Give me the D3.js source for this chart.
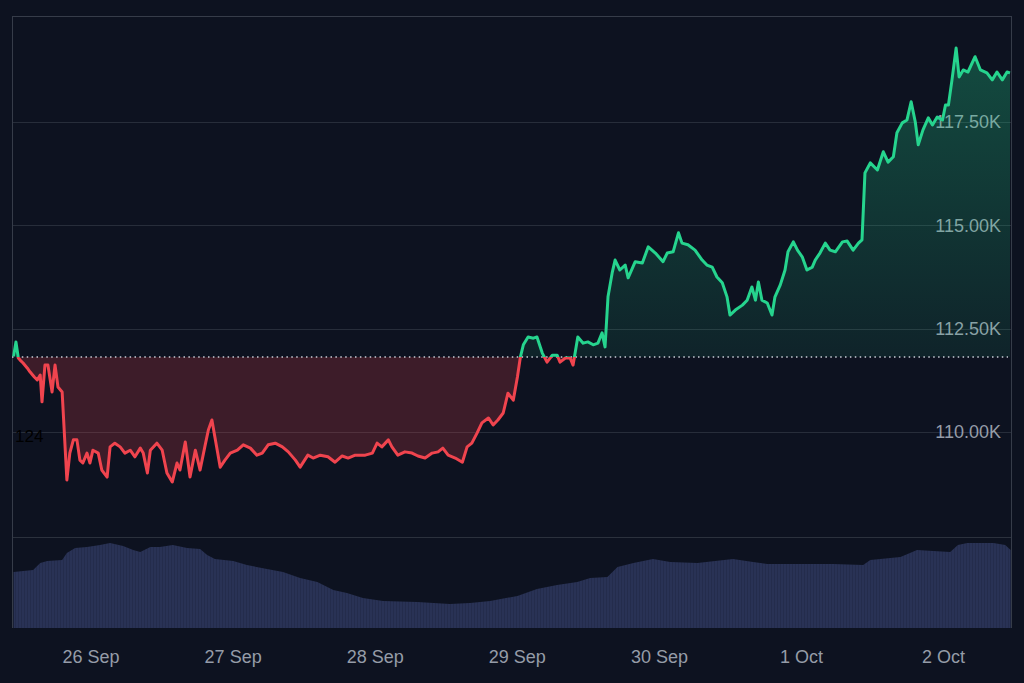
<!DOCTYPE html>
<html>
<head>
<meta charset="utf-8">
<script src="https://cdn.jsdelivr.net/npm/d3@7"></script>
<style>
  html, body { margin: 0; padding: 0; background: #0d1220; }
  svg { display: block; }
</style>
</head>
<body>
<div id="chart"></div>
<script>
// price series, hours after 25 Sep 11:00 UTC
const startTime = Date.UTC(2025, 8, 25, 11, 0)
const priceHours = [0,0.4,0.8,1.1,1.6,2.3,2.8,3.5,4.0,4.5,4.8,5.3,5.8,6.5,7.0,7.5,8.2,9.0,9.5,10.1,10.7,11.2,11.7,12.4,12.9,13.4,14.3,14.9,15.8,16.3,17.1,18.0,18.8,19.7,20.5,21.4,21.9,22.6,23.1,24.2,25.1,25.9,26.8,27.6,28.1,29.0,29.8,30.7,31.5,32.3,32.9,33.5,34.0,34.9,35.7,36.6,37.8,38.8,40.0,41.1,42.0,43.0,44.2,45.4,46.4,47.6,48.4,49.7,50.6,51.8,53.1,54.3,55.5,56.5,57.7,59.4,60.6,61.4,62.2,63.3,63.9,64.9,66.1,67.3,68.3,69.5,70.7,71.7,72.5,73.4,74.6,75.8,76.6,77.4,78.3,79.1,80.2,81.0,81.8,82.7,83.5,84.4,85.1,85.6,86.1,86.9,87.8,88.4,89.3,90.1,91.0,91.8,92.3,93.2,94.0,94.5,95.3,96.2,97.0,97.9,98.7,99.4,99.9,100.4,101.1,101.6,102.4,103.3,103.8,105.0,106.2,107.2,108.4,109.7,110.4,111.4,112.3,112.9,113.9,115.1,116.3,117.1,118.0,118.8,119.7,120.5,121.0,121.9,123.1,123.9,124.7,125.3,125.8,126.4,127.3,128.1,128.6,129.5,130.3,130.8,131.7,132.4,133.2,134.0,134.9,135.4,136.2,137.1,137.9,138.8,140.0,140.8,141.8,142.7,143.3,143.8,144.7,145.9,146.9,147.7,148.6,149.2,150.1,150.9,151.6,152.3,152.8,153.6,154.5,155.2,156.0,156.9,157.4,157.9,158.5,159.2,159.7,160.4,161.2,162.4,163.3,164.4,165.3,166.1,167.0,167.8,168.3]
const prices = [111830,112180,111790,111740,111670,111550,111450,111330,111260,111380,110730,111620,111620,110970,111620,111090,110970,108840,109490,109810,109810,109320,109250,109490,109250,109560,109490,109080,108910,109640,109730,109640,109490,109560,109400,109610,109490,109010,109560,109730,109560,109010,108790,109250,109080,109760,108910,109560,109080,109640,110050,110290,109880,109150,109320,109490,109560,109690,109610,109440,109490,109690,109730,109640,109520,109320,109150,109440,109370,109440,109400,109270,109420,109370,109440,109440,109490,109730,109640,109810,109640,109440,109520,109490,109420,109370,109490,109520,109610,109440,109370,109270,109640,109730,109980,110220,110340,110170,110290,110460,110940,110770,111330,111815,112110,112300,112270,112300,111910,111690,111860,111860,111690,111790,111790,111620,112300,112150,112180,112110,112150,112400,112060,113270,113850,114160,113920,114040,113730,114120,114090,114480,114330,114120,114330,114360,114820,114570,114530,114400,114160,114040,113990,113750,113610,113270,112830,112950,113070,113190,113510,113190,113630,113190,113120,112830,113270,113560,113920,114360,114600,114400,114240,113920,113990,114160,114330,114570,114400,114360,114600,114620,114400,114570,114650,116270,116510,116340,116780,116530,116660,117240,117480,117550,117990,117500,116950,117310,117600,117430,117620,117550,117910,117910,118520,119290,118590,118760,118710,119080,118760,118690,118520,118710,118520,118710,118690]
const baseline = 111815

// volume (24h, billions)
const volHours = [0,3.3,4.5,5.7,8.2,9.0,10.4,12.4,14.6,16.3,18.5,20.2,21.4,23.1,24.7,26.9,29.3,31.5,32.7,34.0,37.1,39.4,42.8,45.5,48.4,51.3,54.0,56.3,59.0,62.4,68.2,73.7,77.1,80.5,85.1,88.4,91.8,95.2,97.4,100.3,102.0,104.7,108.0,110.9,115.5,121.5,124.9,127.3,132.8,138.4,143.5,144.7,149.8,152.6,155.3,158.2,159.5,161.1,165.5,167.5,168.4]
const volumes = [61.5,63.7,71.4,73.6,74.7,82.4,87.9,89.0,91.2,93.4,90.1,85.7,83.5,89.0,89.0,91.2,87.9,86.8,80.2,75.8,73.6,69.2,64.8,61.5,55.0,50.6,41.8,38.5,33.0,29.7,28.6,26.4,27.5,29.7,35.2,42.9,47.3,50.6,55.0,56.0,67.0,71.4,75.8,72.5,71.4,75.8,72.5,70.3,70.3,70.3,69.2,74.7,78.0,85.7,84.6,83.5,91.2,93.4,93.4,91.2,85.7]

const priceTicks = [110000, 112500, 115000, 117500]

const hour = 3600 * 1000
const priceData = d3.range(Math.min(priceHours.length, prices.length)).map((i) => ({
	t: new Date(startTime + priceHours[i] * hour),
	p: prices[i],
}))
const volData = volHours.map((h, i) => ({ t: new Date(startTime + h * hour), v: volumes[i] }))

const width = 1024
const height = 683
const plotLeft = 12
const plotRight = 1011
const plotTop = 16
const split = 537
const plotBottom = 628

const svg = d3
	.select('#chart')
	.append('svg')
	.attr('width', width)
	.attr('height', height)
	.style('font-family', '"Liberation Sans", Arial, sans-serif')

svg.append('rect').attr('width', width).attr('height', height).attr('fill', '#0d1220')

const x = d3
	.scaleUtc()
	.domain([new Date(Date.UTC(2025, 8, 25, 10, 44)), new Date(Date.UTC(2025, 9, 2, 11, 28))])
	.range([plotLeft, plotRight])

const y = d3.scaleLinear().domain([107460, 120065]).range([split, plotTop])
const yv = d3.scaleLinear().domain([0, 100]).range([plotBottom, split])

const defs = svg.append('defs')

// thin vertical stripes so the volume reads like dense bars
const stripes = defs
	.append('pattern')
	.attr('id', 'volStripes')
	.attr('patternUnits', 'userSpaceOnUse')
	.attr('width', 3)
	.attr('height', 10)
stripes.append('rect').attr('width', 3).attr('height', 10).attr('fill', '#293255')
stripes.append('rect').attr('width', 1).attr('height', 10).attr('fill', '#242c4c')

// volume
svg
	.append('path')
	.datum(volData)
	.attr('fill', 'url(#volStripes)')
	.attr('d', d3.area().x((d) => x(d.t)).y0(yv(0)).y1((d) => yv(d.v)))

// grid
svg
	.append('g')
	.selectAll('line')
	.data(priceTicks)
	.join('line')
	.attr('x1', plotLeft)
	.attr('x2', plotRight)
	.attr('y1', (d) => Math.round(y(d)) + 0.5)
	.attr('y2', (d) => Math.round(y(d)) + 0.5)
	.attr('stroke', '#272d3a')

const frame = svg.append('g').attr('stroke', '#363c49').attr('fill', 'none')
frame.append('line').attr('x1', plotLeft).attr('x2', plotRight).attr('y1', plotTop + 0.5).attr('y2', plotTop + 0.5)
frame.append('line').attr('x1', plotLeft).attr('x2', plotRight).attr('y1', split + 0.5).attr('y2', split + 0.5).attr('stroke', '#2b313d')
frame.append('line').attr('x1', plotLeft + 0.5).attr('x2', plotLeft + 0.5).attr('y1', plotTop).attr('y2', plotBottom)
frame.append('line').attr('x1', plotRight + 0.5).attr('x2', plotRight + 0.5).attr('y1', plotTop).attr('y2', plotBottom)

// price labels
svg
	.append('g')
	.selectAll('text')
	.data(priceTicks)
	.join('text')
	.attr('x', 1001)
	.attr('y', (d) => y(d))
	.attr('dy', '0.36em')
	.attr('text-anchor', 'end')
	.attr('fill', '#959ca8')
	.style('font-size', '18px')
	.text((d) => (d / 1000).toFixed(2) + 'K')

// date axis
const xAxis = svg
	.append('g')
	.attr('transform', `translate(0,${plotBottom})`)
	.call(d3.axisBottom(x).ticks(d3.utcDay.every(1)).tickFormat(d3.utcFormat('%-d %b')).tickSize(0).tickPadding(22))
xAxis.select('.domain').remove()
xAxis.selectAll('text').attr('fill', '#959ca8').style('font-size', '18px').style('font-family', '"Liberation Sans", Arial, sans-serif')

// fills and line split on the baseline
const baseY = y(baseline)
defs.append('clipPath').attr('id', 'above').append('rect').attr('x', 0).attr('y', 0).attr('width', width).attr('height', baseY)
defs.append('clipPath').attr('id', 'below').append('rect').attr('x', 0).attr('y', baseY).attr('width', width).attr('height', height - baseY)

const grad = defs
	.append('linearGradient')
	.attr('id', 'greenFill')
	.attr('gradientUnits', 'userSpaceOnUse')
	.attr('x1', 0)
	.attr('x2', 0)
	.attr('y1', y(d3.max(prices)))
	.attr('y2', baseY)
grad.append('stop').attr('offset', 0).attr('stop-color', '#22d18b').attr('stop-opacity', 0.3)
grad.append('stop').attr('offset', 1).attr('stop-color', '#22d18b').attr('stop-opacity', 0.09)

const area = d3
	.area()
	.x((d) => x(d.t))
	.y0(baseY)
	.y1((d) => y(d.p))
const line = d3
	.line()
	.x((d) => x(d.t))
	.y((d) => y(d.p))

svg.append('path').datum(priceData).attr('clip-path', 'url(#above)').attr('fill', 'url(#greenFill)').attr('d', area)
svg.append('path').datum(priceData).attr('clip-path', 'url(#below)').attr('fill', 'rgba(240,64,74,0.21)').attr('d', area)

svg
	.append('line')
	.attr('x1', plotLeft)
	.attr('x2', plotRight - 3)
	.attr('y1', baseY)
	.attr('y2', baseY)
	.attr('stroke', '#c9ced8')
	.attr('stroke-width', 1.4)
	.attr('stroke-dasharray', '1.5,3.4')

svg.append('path').datum(priceData).attr('clip-path', 'url(#above)').attr('fill', 'none').attr('stroke', '#26d48e').attr('stroke-width', 3).attr('stroke-linejoin', 'round').attr('d', line)
svg.append('path').datum(priceData).attr('clip-path', 'url(#below)').attr('fill', 'none').attr('stroke', '#f0444e').attr('stroke-width', 3).attr('stroke-linejoin', 'round').attr('d', line)

svg
	.append('text')
	.attr('x', 15)
	.attr('y', 442)
	.attr('fill', '#000000')
	.style('font-size', '17px')
	.text('124')
</script>
</body>
</html>
